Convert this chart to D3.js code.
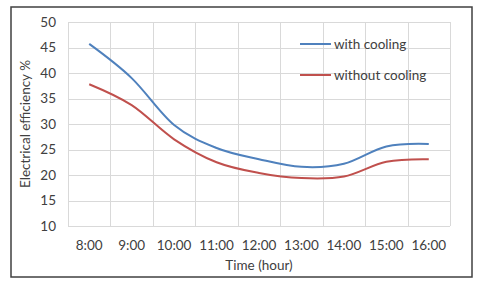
<!DOCTYPE html>
<html><head><meta charset="utf-8">
<script src="https://cdn.jsdelivr.net/npm/d3@7"></script>
<style>body{margin:0;background:#fff}svg{display:block}text{font-family:Lato,"Open Sans",sans-serif;fill:#404040}</style>
</head><body><svg id="c" width="480" height="284"></svg>
<script>
const categories = ["8:00","9:00","10:00","11:00","12:00","13:00","14:00","15:00","16:00"];
const withCooling = [45.7, 39.0, 29.8, 25.3, 23.1, 21.6, 22.2, 25.6, 26.1];
const withoutCooling = [37.8, 33.7, 27.0, 22.5, 20.4, 19.4, 19.7, 22.6, 23.1];
const yTicks = [10,15,20,25,30,35,40,45,50];
const seriesNames = ["with cooling","without cooling"];
const colors = ["#4F81BD","#C0504D"];

const svg = d3.select("#c");
svg.append("rect").attr("x",11).attr("y",7).attr("width",461).attr("height",270)
  .attr("fill","#fff").attr("stroke","#404040").attr("stroke-width",1.5);

const L=68,R=450,T=22,B=226;
const fs = 13.5;
const x = d3.scaleBand().domain(categories).range([L,R]);
const y = d3.scaleLinear().domain([10,50]).range([B,T]);
const g = svg.append("g");
g.selectAll(".hg").data(yTicks).join("line")
  .attr("x1",L).attr("x2",R).attr("y1",d=>Math.round(y(d))+0.5).attr("y2",d=>Math.round(y(d))+0.5)
  .attr("stroke","#d9d9d9").attr("stroke-width",1);
const bounds = categories.map(c=>x(c)).concat([R]);
g.selectAll(".vg").data(bounds).join("line")
  .attr("x1",d=>Math.round(d)+0.5).attr("x2",d=>Math.round(d)+0.5).attr("y1",T).attr("y2",B)
  .attr("stroke","#d9d9d9").attr("stroke-width",1);
g.selectAll(".yl").data(yTicks).join("text")
  .attr("x",56).attr("y",d=>y(d)).attr("dy","0.35em").attr("text-anchor","end")
  .attr("font-size",fs).text(d=>d);
g.selectAll(".xl").data(categories).join("text")
  .attr("x",d=>x(d)+x.bandwidth()/2).attr("y",245).attr("dy","0.35em").attr("text-anchor","middle")
  .attr("font-size",fs).text(d=>d);
svg.append("text").attr("x",(L+R)/2).attr("y",265).attr("dy","0.35em").attr("text-anchor","middle")
  .attr("font-size",fs).text("Time (hour)");
svg.append("text").attr("transform","translate(25,124) rotate(-90)").attr("dy","0.35em")
  .attr("text-anchor","middle").attr("font-size",fs).text("Electrical efficiency %");

const line = d3.line().x((d,i)=>x(categories[i])+x.bandwidth()/2).y(d=>y(d)).curve(d3.curveCardinal.tension(0));
[withCooling, withoutCooling].forEach((s,k)=>{
  svg.append("path").datum(s).attr("d",line).attr("fill","none")
    .attr("stroke",colors[k]).attr("stroke-width",2);
});
seriesNames.forEach((n,k)=>{
  const ly = 44 + k*31;
  svg.append("line").attr("x1",300).attr("x2",331).attr("y1",ly).attr("y2",ly)
    .attr("stroke",colors[k]).attr("stroke-width",2);
  svg.append("text").attr("x",334).attr("y",ly).attr("dy","0.35em").attr("font-size",fs).text(n);
});
</script></body></html>
